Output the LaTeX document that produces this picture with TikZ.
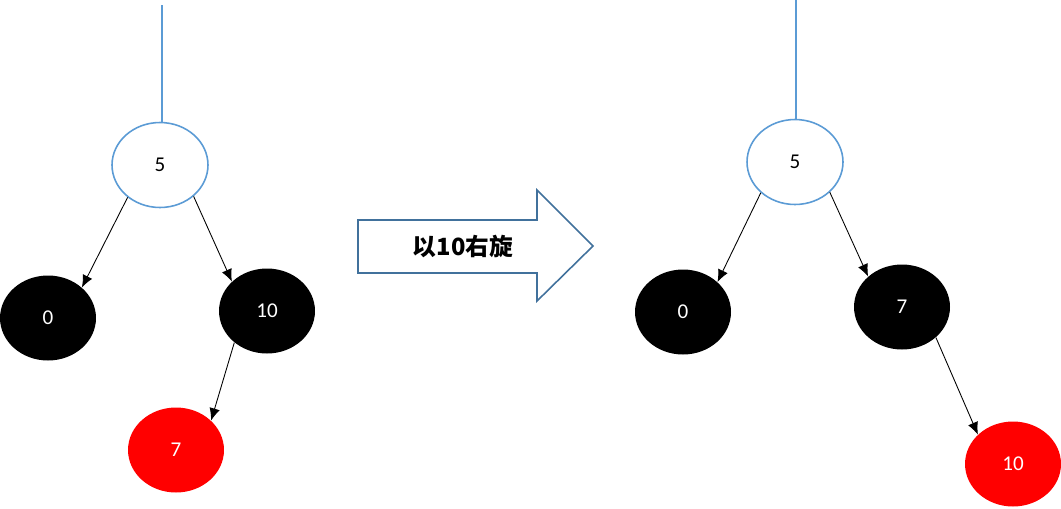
\documentclass[tikz,border=0pt]{standalone}
\usepackage{fontspec}
\setmainfont{Carlito}
\newfontfamily\cjk{Noto Sans CJK SC}
\usetikzlibrary{shapes.geometric,arrows.meta}
\definecolor{rootblue}{RGB}{91,155,213}
\definecolor{arrowblue}{RGB}{65,113,156}
\begin{document}
\begin{tikzpicture}[
  x=0.02cm, y=-0.02cm,
  treenode/.style={
    ellipse,
    inner sep=0pt,
    minimum width=1.92cm,
    minimum height=1.7cm,
    font=\fontsize{12}{14}\selectfont
  },
  rootnode/.style={treenode, draw=rootblue, line width=0.9pt, fill=white},
  blacknode/.style={treenode, fill=black, text=white},
  rednode/.style={treenode, fill=red, text=white},
  edge/.style={-{Latex[length=7pt,width=6pt]}, line width=0.5pt}
]
\useasboundingbox (0,0) rectangle (1061,508);

% before the rotation
\node[rootnode] (la) at (160,165) {5};
\node[blacknode] (lb) at (48,318) {0};
\node[blacknode] (lc) at (267,311) {10};
\node[rednode] (ld) at (176,450) {7};
\coordinate (ltop) at (162,5);

\draw[rootblue, line width=0.8pt] (ltop) -- (la.north -| ltop);
\draw[edge] (la.225) -- (lb.42);
\draw[edge] (la.317) -- (lc.140);
\draw[edge] (lc.224) -- (ld.40);

% big arrow
\draw[arrowblue, line width=0.9pt, fill=white]
  (358,220) -- (537,220) -- (537,190) -- (593,246) -- (537,301)
  -- (537,273) -- (358,273) -- cycle;
\node (turn) at (463,246) {\cjk\bfseries\fontsize{13.5}{16}\selectfont 以10右旋};

% after the rotation
\node[rootnode] (ra) at (795,162) {5};
\node[blacknode] (rb) at (683,312) {0};
\node[blacknode] (rc) at (902,307) {7};
\node[rednode] (rd) at (1013,464) {10};
\coordinate (rtop) at (796,0);

\draw[rootblue, line width=0.8pt] (rtop) -- (ra.north -| rtop);
\draw[edge] (ra.222) -- (rb.41);
\draw[edge] (ra.319) -- (rc.138);
\draw[edge] (rc.318) -- (rd.140);
\end{tikzpicture}
\end{document}
